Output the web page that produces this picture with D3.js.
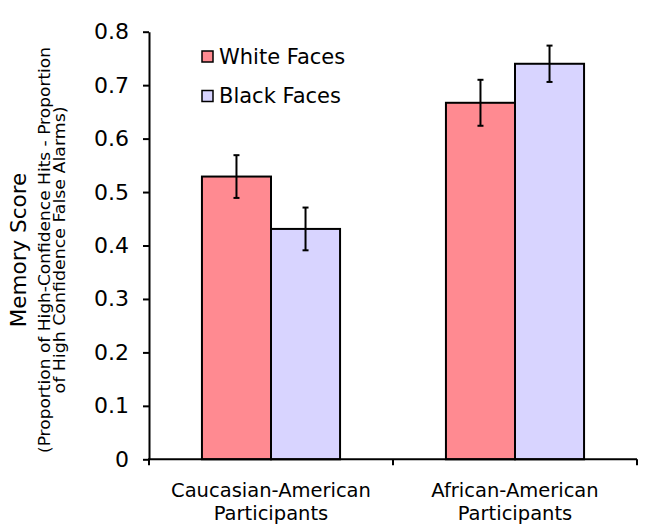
<!DOCTYPE html>
<html><head><meta charset="utf-8">
<script src="https://cdn.jsdelivr.net/npm/d3@7"></script>
<style>body{margin:0;background:#fff}svg{display:block}text{font-family:"DejaVu Sans",Verdana,sans-serif;fill:#000}</style>
</head><body><svg id="c" width="654" height="531"></svg>
<script>
const categories = ["Caucasian-American Participants", "African-American Participants"];
const categoryLines = [["Caucasian-American","Participants"],["African-American","Participants"]];
const seriesNames = ["White Faces", "Black Faces"];
const whiteFaces = [0.529, 0.667];
const blackFaces = [0.431, 0.740];
const whiteErr = [0.040, 0.043];
const blackErr = [0.040, 0.034];
const yTicks = [0, 0.1, 0.2, 0.3, 0.4, 0.5, 0.6, 0.7, 0.8];
const colors = ["#FF8A91", "#D8D4FF"];

const svg = d3.select("#c");
const mLeft = 149, mRight = 637, mTop = 31.7, mBottom = 459.3;
const y = d3.scaleLinear().domain([0, 0.8]).range([mBottom, mTop]);
const x0 = d3.scaleBand().domain(categories).range([mLeft, mRight]).padding(0);
const bw = x0.bandwidth();
const x1 = d3.scaleBand().domain(seriesNames).range([bw*0.217, bw*(1-0.217)]).padding(0);

const data = categories.map((c,i)=>({cat:c, vals:[
  {s:seriesNames[0], v:whiteFaces[i], e:whiteErr[i], col:colors[0]},
  {s:seriesNames[1], v:blackFaces[i], e:blackErr[i], col:colors[1]}]}));

const g = svg.append("g");
const groups = g.selectAll("g.grp").data(data).join("g").attr("transform", d=>`translate(${x0(d.cat)},0)`);
groups.selectAll("rect").data(d=>d.vals).join("rect")
  .attr("x", d=>x1(d.s)).attr("width", x1.bandwidth())
  .attr("y", d=>y(d.v)).attr("height", d=>y(0)-y(d.v))
  .attr("fill", d=>d.col).attr("stroke", "#000").attr("stroke-width", 2);
groups.selectAll("g.err").data(d=>d.vals).join("g").each(function(d){
  const cx = x1(d.s)+x1.bandwidth()/2;
  const s = d3.select(this);
  s.append("line").attr("x1",cx).attr("x2",cx).attr("y1",y(d.v+d.e)).attr("y2",y(d.v-d.e)).attr("stroke","#000").attr("stroke-width",2);
  [d.v+d.e, d.v-d.e].forEach(v=>s.append("line").attr("x1",cx-3).attr("x2",cx+3).attr("y1",y(v)).attr("y2",y(v)).attr("stroke","#000").attr("stroke-width",2));
});

// y axis
const yAxis = d3.axisLeft(y).tickValues(yTicks).tickFormat(d=>d===0?"0":d3.format(".1f")(d)).tickSize(6).tickSizeOuter(0).tickPadding(14);
const ya = svg.append("g").attr("transform",`translate(${mLeft},0)`).call(yAxis);
ya.select(".domain").attr("stroke","#000").attr("stroke-width",2);
ya.selectAll(".tick line").attr("stroke","#000").attr("stroke-width",2);
ya.selectAll(".tick text").attr("font-size",22).attr("font-family","DejaVu Sans").attr("fill","#000");

// x axis
const xa = svg.append("g").attr("transform",`translate(0,${mBottom})`);
xa.append("line").attr("x1",mLeft-1).attr("x2",mRight).attr("y1",0).attr("y2",0).attr("stroke","#000").attr("stroke-width",2);
const xt = [mLeft, ...categories.map(c=>x0(c)+bw)];
xa.selectAll("line.t").data(xt).join("line").attr("class","t").attr("x1",d=>d).attr("x2",d=>d).attr("y1",0).attr("y2",6).attr("stroke","#000").attr("stroke-width",2);
categories.forEach((c,i)=>{
  const t = svg.append("text").attr("x", x0(c)+bw/2).attr("y", 497).attr("text-anchor","middle").attr("font-size",19.5);
  categoryLines[i].forEach((ln,j)=>t.append("tspan").attr("x", x0(c)+bw/2).attr("dy", j===0?0:23).text(ln));
});

// y title
const yt = svg.append("g").attr("transform","translate(0,250) rotate(-90)");
yt.append("text").attr("x",0).attr("y",26).attr("text-anchor","middle").attr("font-size",21.5).text("Memory Score");
yt.append("text").attr("x",0).attr("y",49.5).attr("text-anchor","middle").attr("font-size",15.5)
  .attr("textLength",406).attr("lengthAdjust","spacingAndGlyphs").text("(Proportion of High-Confidence Hits - Proportion");
yt.append("text").attr("x",0).attr("y",65).attr("text-anchor","middle").attr("font-size",15.5)
  .attr("textLength",287).attr("lengthAdjust","spacingAndGlyphs").text("of High Confidence False Alarms)");

// legend
const lg = svg.append("g");
seriesNames.forEach((s,i)=>{
  const yy = 51 + i*39.5;
  lg.append("rect").attr("x",202).attr("y",yy).attr("width",11).attr("height",11).attr("fill",colors[i]).attr("stroke","#000").attr("stroke-width",1.5);
  lg.append("text").attr("x",219).attr("y",yy+12.5).attr("font-size",21).text(s);
});
</script></body></html>
